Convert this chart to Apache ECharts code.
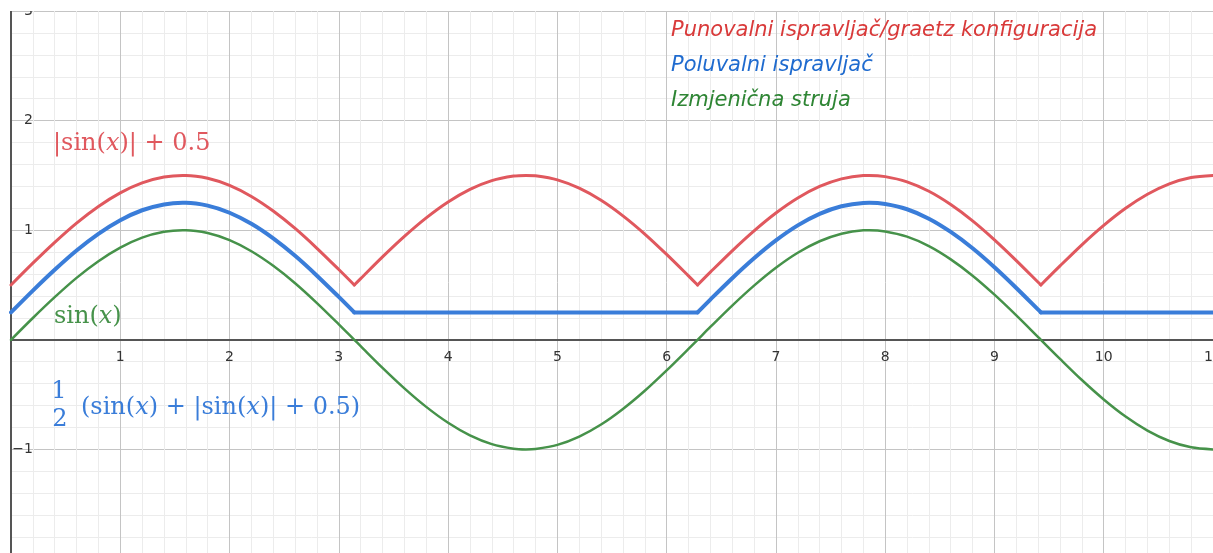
<!DOCTYPE html>
<html>
<head>
<meta charset="utf-8">
<script src="https://cdn.jsdelivr.net/npm/echarts@6/dist/echarts.min.js"></script>
<style>
  html, body { margin: 0; padding: 0; background: #ffffff; }
  #chart { width: 1213px; height: 553px; }
</style>
</head>
<body>
<div id="chart"></div>
<script>
// x samples (radians), including peaks (pi/2, 3pi/2, 5pi/2) and kink points pi, 2pi, 3pi
const xs = [0,0.2,0.4,0.6,0.8,1.0,1.2,1.4,1.5708,1.6,1.8,2.0,2.2,2.4,2.6,2.8,3.0,3.1416,
  3.2,3.4,3.6,3.8,4.0,4.2,4.4,4.6,4.7124,4.8,5.0,5.2,5.4,5.6,5.8,6.0,6.2,6.2832,
  6.4,6.6,6.8,7.0,7.2,7.4,7.6,7.8,7.854,8.0,8.2,8.4,8.6,8.8,9.0,9.2,9.4,9.4248,
  9.6,9.8,10.0,10.2,10.4,10.6,10.8,11.0];

// indices of the kink points (x = pi, 2pi, 3pi) in xs
const kinkIdx = [17, 35, 53];

// Izmjenična struja: sin(x)
const acValues = [0,0.199,0.389,0.565,0.717,0.841,0.932,0.985,1.000,1.000,0.974,0.909,0.808,0.675,0.516,0.335,0.141,0,
  -0.058,-0.256,-0.443,-0.612,-0.757,-0.872,-0.952,-0.994,-1.000,-0.996,-0.959,-0.883,-0.773,-0.631,-0.465,-0.279,-0.083,0,
  0.117,0.312,0.494,0.657,0.794,0.899,0.968,0.999,1.000,0.989,0.941,0.855,0.734,0.585,0.412,0.223,0.025,0,
  -0.174,-0.367,-0.544,-0.700,-0.828,-0.923,-0.981,-1.000];

// Punovalni ispravljač: |sin(x)| + 0.5
const fullWaveValues = [0.5,0.699,0.889,1.065,1.217,1.341,1.432,1.485,1.500,1.500,1.474,1.409,1.308,1.175,1.016,0.835,0.641,0.5,
  0.558,0.756,0.943,1.112,1.257,1.372,1.452,1.494,1.500,1.496,1.459,1.383,1.273,1.131,0.965,0.779,0.583,0.5,
  0.617,0.812,0.994,1.157,1.294,1.399,1.468,1.499,1.500,1.489,1.441,1.355,1.234,1.085,0.912,0.723,0.525,0.5,
  0.674,0.867,1.044,1.200,1.328,1.423,1.481,1.500];

// Poluvalni ispravljač: 1/2 (sin(x) + |sin(x)| + 0.5)
const halfWaveValues = [0.25,0.449,0.639,0.815,0.967,1.091,1.182,1.235,1.250,1.250,1.224,1.159,1.058,0.925,0.766,0.585,0.391,0.25,
  0.25,0.25,0.25,0.25,0.25,0.25,0.25,0.25,0.25,0.25,0.25,0.25,0.25,0.25,0.25,0.25,0.25,0.25,
  0.367,0.562,0.744,0.907,1.044,1.149,1.218,1.249,1.250,1.239,1.191,1.105,0.984,0.835,0.662,0.473,0.275,0.25,
  0.25,0.25,0.25,0.25,0.25,0.25,0.25,0.25];

const legendTexts = ['Punovalni ispravljač/graetz konfiguracija', 'Poluvalni ispravljač', 'Izmjenična struja'];

const C_RED = '#e0585e', C_BLUE = '#3a7dd9', C_GREEN = '#46924a';
const T_RED = '#d93a3a', T_BLUE = '#1f6bcf', T_GREEN = '#2e8534';

// split a curve at kink indices into smooth pieces
function pieces(name, arr, cuts, color, width, z) {
  const bounds = [0].concat(cuts, [xs.length - 1]);
  const out = [];
  for (let k = 0; k < bounds.length - 1; k++) {
    const seg = [];
    for (let i = bounds[k]; i <= bounds[k + 1]; i++) seg.push([xs[i], arr[i]]);
    out.push({ name, type: 'line', data: seg, showSymbol: false, smooth: 0.3,
      lineStyle: { color, width, cap: 'round', join: 'round' }, z });
  }
  return out;
}

const chart = echarts.init(document.getElementById('chart'), null, { renderer: 'canvas' });

const GRID_TOP = 11, GRID_H = 548, Y_MIN = -2, Y_MAX = 3;
const zeroOffset = GRID_H * (0 - Y_MIN) / (Y_MAX - Y_MIN); // distance from bottom edge to y=0

const mathFont = 'DejaVu Serif';
const option = {
  backgroundColor: '#ffffff',
  animation: false,
  grid: { left: 11, right: 0, top: GRID_TOP, height: GRID_H, outerBoundsMode: 'none', containLabel: false },
  xAxis: {
    type: 'value', min: 0, max: 11, interval: 1,
    position: 'bottom', offset: -zeroOffset,
    axisLine: { show: true, onZero: false, lineStyle: { color: '#555', width: 2 } },
    axisTick: { show: false },
    axisLabel: {
      show: true, margin: 11, color: '#333', fontSize: 14, fontFamily: 'DejaVu Sans',
      showMinLabel: true, showMaxLabel: true, hideOverlap: false,
      formatter: v => (v === 0 ? '' : String(v))
    },
    splitLine: { show: true, lineStyle: { color: '#c4c4c4', width: 1 } },
    minorTick: { show: false, splitNumber: 5 },
    minorSplitLine: { show: true, lineStyle: { color: '#ececec', width: 1 } }
  },
  yAxis: {
    type: 'value', min: Y_MIN, max: Y_MAX, interval: 1,
    position: 'left',
    axisLine: { show: true, onZero: false, lineStyle: { color: '#555', width: 2 } },
    axisTick: { show: false },
    axisLabel: {
      show: true, inside: true, align: 'right', margin: 22, color: '#333', fontSize: 14,
      fontFamily: 'DejaVu Sans', showMinLabel: true, showMaxLabel: true, hideOverlap: false,
      formatter: v => (v === 0 ? '' : String(v).replace('-', '\u2212'))
    },
    splitLine: { show: true, lineStyle: { color: '#c4c4c4', width: 1 } },
    minorTick: { show: false, splitNumber: 5 },
    minorSplitLine: { show: true, lineStyle: { color: '#ececec', width: 1 } }
  },
  series: [].concat(
    pieces(legendTexts[2], acValues, [], C_GREEN, 2.5, 3),
    pieces(legendTexts[1], halfWaveValues, kinkIdx, C_BLUE, 4, 4),
    pieces(legendTexts[0], fullWaveValues, kinkIdx, C_RED, 3, 5)
  ),
  graphic: [
    { type: 'rect', left: 0, top: 0, z: 100, shape: { width: 1213, height: 11 }, style: { fill: '#ffffff' } },
    { type: 'text', x: 671, y: 31, z: 50, style: { text: legendTexts[0], font: 'italic 21px "DejaVu Sans"', fill: T_RED, align: 'left', verticalAlign: 'middle' } },
    { type: 'text', x: 671, y: 66, z: 50, style: { text: legendTexts[1], font: 'italic 21px "DejaVu Sans"', fill: T_BLUE, align: 'left', verticalAlign: 'middle' } },
    { type: 'text', x: 671, y: 101, z: 50, style: { text: legendTexts[2], font: 'italic 21px "DejaVu Sans"', fill: T_GREEN, align: 'left', verticalAlign: 'middle' } },
    { type: 'text', x: 53, y: 144, z: 50, style: {
        text: '{t||sin(}{i|x}{t|)| + 0.5}', align: 'left', verticalAlign: 'middle',
        rich: { t: { fontFamily: mathFont, fontSize: 24, fill: C_RED, color: C_RED },
                i: { fontFamily: mathFont, fontSize: 24, fontStyle: 'italic', fill: C_RED, color: C_RED } } } },
    { type: 'text', x: 54, y: 317, z: 50, style: {
        text: '{t|sin(}{i|x}{t|)}', align: 'left', verticalAlign: 'middle',
        rich: { t: { fontFamily: mathFont, fontSize: 24, fill: C_GREEN, color: C_GREEN },
                i: { fontFamily: mathFont, fontSize: 24, fontStyle: 'italic', fill: C_GREEN, color: C_GREEN } } } },
    { type: 'text', x: 59, y: 392, z: 50, style: { text: '1', font: '24px "DejaVu Serif"', fill: C_BLUE, align: 'center', verticalAlign: 'middle' } },
    { type: 'text', x: 60, y: 420, z: 50, style: { text: '2', font: '24px "DejaVu Serif"', fill: C_BLUE, align: 'center', verticalAlign: 'middle' } },
    { type: 'text', x: 81, y: 408, z: 50, style: {
        text: '{t|(sin(}{i|x}{t|) + |sin(}{i|x}{t|)| + 0.5)}', align: 'left', verticalAlign: 'middle',
        rich: { t: { fontFamily: mathFont, fontSize: 24, fill: C_BLUE, color: C_BLUE },
                i: { fontFamily: mathFont, fontSize: 24, fontStyle: 'italic', fill: C_BLUE, color: C_BLUE } } } }
  ]
};
chart.setOption(option);
</script>
</body>
</html>
